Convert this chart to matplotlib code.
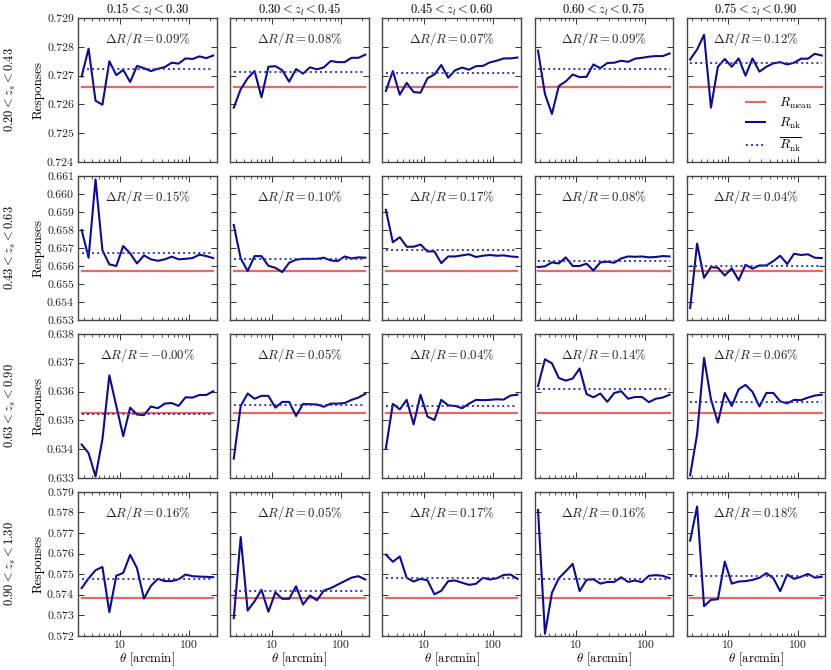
import matplotlib
matplotlib.use("Agg")
import matplotlib.pyplot as plt
from matplotlib.ticker import FixedLocator, FormatStrFormatter, FuncFormatter

plt.rcParams["font.family"] = "serif"
plt.rcParams["font.serif"] = ["cmr10"]
plt.rcParams["mathtext.fontset"] = "cm"
plt.rcParams["axes.formatter.use_mathtext"] = True
plt.rcParams["axes.unicode_minus"] = False

# angular bin centres [arcmin]
theta = [2.81, 3.54, 4.46, 5.61, 7.06, 8.89, 11.2, 14.1, 17.7, 22.3,
         28.1, 35.4, 44.6, 56.1, 70.6, 88.9, 112, 141, 177, 223]

zl_bins = ["0.15 < z_l < 0.30", "0.30 < z_l < 0.45", "0.45 < z_l < 0.60",
           "0.60 < z_l < 0.75", "0.75 < z_l < 0.90"]
zs_bins = ["0.20 < z_s < 0.43", "0.43 < z_s < 0.63",
           "0.63 < z_s < 0.90", "0.90 < z_s < 1.30"]

ylims = [(0.724, 0.729), (0.653, 0.661), (0.633, 0.638), (0.572, 0.579)]

r_mean = [0.72659, 0.65573, 0.63525, 0.57385]

# R_nk per panel, row = source bin, col = lens bin
rnk_row1 = [
    [0.72697, 0.72794, 0.72613, 0.72599, 0.72750, 0.72702, 0.72720, 0.72678, 0.72734, 0.72726,
     0.72716, 0.72724, 0.72730, 0.72745, 0.72742, 0.72760, 0.72758, 0.72767, 0.72761, 0.72770],
    [0.72589, 0.72653, 0.72691, 0.72716, 0.72625, 0.72731, 0.72733, 0.72719, 0.72679, 0.72723,
     0.72707, 0.72729, 0.72722, 0.72729, 0.72751, 0.72747, 0.72747, 0.72762, 0.72762, 0.72773],
    [0.72647, 0.72716, 0.72634, 0.72675, 0.72643, 0.72641, 0.72691, 0.72704, 0.72737, 0.72693,
     0.72719, 0.72728, 0.72721, 0.72733, 0.72734, 0.72746, 0.72752, 0.72760, 0.72760, 0.72763],
    [0.72787, 0.72636, 0.72567, 0.72664, 0.72680, 0.72704, 0.72695, 0.72696, 0.72739, 0.72726,
     0.72744, 0.72745, 0.72752, 0.72748, 0.72759, 0.72762, 0.72766, 0.72768, 0.72768, 0.72777],
    [0.72756, 0.72791, 0.72842, 0.72589, 0.72731, 0.72758, 0.72731, 0.72760, 0.72700, 0.72760,
     0.72714, 0.72731, 0.72743, 0.72747, 0.72739, 0.72745, 0.72759, 0.72759, 0.72776, 0.72770],
]
rnk_row2 = [
    [0.65800, 0.65646, 0.66081, 0.65687, 0.65609, 0.65600, 0.65711, 0.65670, 0.65614, 0.65659,
     0.65637, 0.65629, 0.65637, 0.65652, 0.65637, 0.65640, 0.65644, 0.65663, 0.65655, 0.65644],
    [0.65828, 0.65642, 0.65572, 0.65655, 0.65655, 0.65601, 0.65590, 0.65566, 0.65618, 0.65635,
     0.65640, 0.65640, 0.65640, 0.65646, 0.65631, 0.65627, 0.65653, 0.65642, 0.65648, 0.65646],
    [0.65912, 0.65732, 0.65760, 0.65707, 0.65707, 0.65719, 0.65681, 0.65681, 0.65616, 0.65653,
     0.65653, 0.65659, 0.65665, 0.65650, 0.65657, 0.65661, 0.65657, 0.65659, 0.65653, 0.65650],
    [0.65594, 0.65598, 0.65620, 0.65614, 0.65648, 0.65600, 0.65600, 0.65613, 0.65575, 0.65620,
     0.65624, 0.65618, 0.65642, 0.65653, 0.65651, 0.65653, 0.65648, 0.65650, 0.65655, 0.65653],
    [0.65367, 0.65724, 0.65534, 0.65594, 0.65590, 0.65547, 0.65587, 0.65521, 0.65607, 0.65585,
     0.65603, 0.65603, 0.65627, 0.65657, 0.65611, 0.65668, 0.65661, 0.65665, 0.65646, 0.65644],
]
rnk_row3 = [
    [0.63416, 0.63386, 0.63305, 0.63434, 0.63656, 0.63550, 0.63445, 0.63544, 0.63520, 0.63518,
     0.63548, 0.63542, 0.63558, 0.63560, 0.63550, 0.63580, 0.63579, 0.63588, 0.63588, 0.63601],
    [0.63367, 0.63550, 0.63593, 0.63575, 0.63585, 0.63585, 0.63544, 0.63564, 0.63564, 0.63515,
     0.63557, 0.63556, 0.63555, 0.63547, 0.63558, 0.63558, 0.63560, 0.63571, 0.63579, 0.63592],
    [0.63403, 0.63557, 0.63538, 0.63571, 0.63486, 0.63589, 0.63513, 0.63501, 0.63571, 0.63552,
     0.63550, 0.63542, 0.63558, 0.63571, 0.63570, 0.63571, 0.63573, 0.63572, 0.63586, 0.63589],
    [0.63619, 0.63712, 0.63698, 0.63647, 0.63638, 0.63645, 0.63680, 0.63591, 0.63580, 0.63593,
     0.63564, 0.63595, 0.63601, 0.63575, 0.63581, 0.63581, 0.63563, 0.63575, 0.63579, 0.63589],
    [0.63309, 0.63452, 0.63717, 0.63573, 0.63492, 0.63595, 0.63550, 0.63608, 0.63623, 0.63599,
     0.63548, 0.63595, 0.63595, 0.63566, 0.63559, 0.63571, 0.63570, 0.63579, 0.63586, 0.63589],
]
rnk_row4 = [
    [0.57432, 0.57479, 0.57519, 0.57535, 0.57315, 0.57492, 0.57506, 0.57594, 0.57529, 0.57381,
     0.57443, 0.57477, 0.57466, 0.57466, 0.57475, 0.57498, 0.57490, 0.57488, 0.57487, 0.57485],
    [0.57286, 0.57680, 0.57323, 0.57368, 0.57424, 0.57317, 0.57411, 0.57380, 0.57380, 0.57441,
     0.57352, 0.57396, 0.57373, 0.57420, 0.57432, 0.57449, 0.57466, 0.57483, 0.57490, 0.57474],
    [0.57595, 0.57560, 0.57586, 0.57482, 0.57464, 0.57477, 0.57470, 0.57402, 0.57419, 0.57466,
     0.57469, 0.57458, 0.57448, 0.57453, 0.57482, 0.57474, 0.57480, 0.57496, 0.57498, 0.57477],
    [0.57812, 0.57210, 0.57409, 0.57480, 0.57514, 0.57550, 0.57417, 0.57472, 0.57475, 0.57454,
     0.57462, 0.57462, 0.57485, 0.57462, 0.57469, 0.57461, 0.57492, 0.57495, 0.57492, 0.57480],
    [0.57663, 0.57829, 0.57344, 0.57375, 0.57378, 0.57561, 0.57454, 0.57464, 0.57466, 0.57472,
     0.57482, 0.57505, 0.57480, 0.57417, 0.57498, 0.57477, 0.57487, 0.57501, 0.57483, 0.57487],
]
rnk_all = [rnk_row1, rnk_row2, rnk_row3, rnk_row4]

# mean of R_nk (dotted line) per panel
rnk_bar = [
    [0.72724, 0.72714, 0.72710, 0.72724, 0.72745],
    [0.65674, 0.65640, 0.65689, 0.65626, 0.65601],
    [0.63523, 0.63553, 0.63548, 0.63610, 0.63564],
    [0.57477, 0.57417, 0.57482, 0.57477, 0.57493],
]

dr_labels = [
    ["0.09", "0.08", "0.07", "0.09", "0.12"],
    ["0.15", "0.10", "0.17", "0.08", "0.04"],
    ["-0.00", "0.05", "0.04", "0.14", "0.06"],
    ["0.16", "0.05", "0.17", "0.16", "0.18"],
]

red = "#e36a68"
navy = "#0d0d8a"
blue = "#3535c8"

fig, axes = plt.subplots(4, 5, figsize=(8.31, 6.70), dpi=100, sharex=True)
fig.subplots_adjust(left=0.094, right=0.993, top=0.973, bottom=0.051,
                    wspace=0.098, hspace=0.097)

for i in range(4):
    lo, hi = ylims[i]
    yticks = [round(lo + k * 0.001, 3) for k in range(int(round((hi - lo) / 0.001)) + 1)]
    for j in range(5):
        ax = axes[i][j]
        ax.plot(theta, [r_mean[i]] * len(theta), color=red, lw=1.6,
                label=r"$R_{\rm mean}$")
        ax.plot(theta, rnk_all[i][j], color=navy, lw=1.5, label=r"$R_{\rm nk}$")
        ax.plot(theta, [rnk_bar[i][j]] * len(theta), color=blue, lw=1.4,
                ls=(0, (1, 1.6)), label=r"$\overline{R_{\rm nk}}$")
        ax.set_xscale("log")
        ax.set_xlim(2.5, 250)
        ax.set_ylim(lo, hi)
        ax.yaxis.set_major_locator(FixedLocator(yticks))
        ax.yaxis.set_major_formatter(FormatStrFormatter("%.3f"))
        ax.xaxis.set_major_formatter(FuncFormatter(lambda v, p: "%d" % v))
        ax.tick_params(which="both", direction="in", top=True, right=True,
                       labelsize=8.5, colors="#333333", labelcolor="#222222", pad=3)
        ax.tick_params(which="major", length=4, width=0.7)
        ax.tick_params(which="minor", length=2, width=0.6)
        for s in ax.spines.values():
            s.set_color("#444444")
            s.set_linewidth(1.0)
        ax.text(0.5, 0.855, r"$\Delta R/R = %s\%%$" % dr_labels[i][j],
                transform=ax.transAxes, ha="center", va="center",
                fontsize=9.2, color="#222222")
        if j == 0:
            ax.set_ylabel("Responses", fontsize=9.5, labelpad=2)
        else:
            ax.tick_params(labelleft=False)
        if i == 0:
            ax.set_title(r"$%s$" % zl_bins[j], fontsize=9, pad=3)
        if i == 3:
            ax.set_xlabel(r"$\theta$ [arcmin]", fontsize=9.2, labelpad=1)

    # source-bin label at far left
    pos = axes[i][0].get_position()
    fig.text(0.013, (pos.y0 + pos.y1) / 2, r"$%s$" % zs_bins[i], rotation=90,
             ha="center", va="center", fontsize=9)

axes[0][4].legend(loc="lower right", frameon=False, fontsize=9.5,
                  handlelength=1.5, labelspacing=0.35, handletextpad=1.0,
                  bbox_to_anchor=(0.99, -0.02))

fig.savefig("out.png", dpi=100)
